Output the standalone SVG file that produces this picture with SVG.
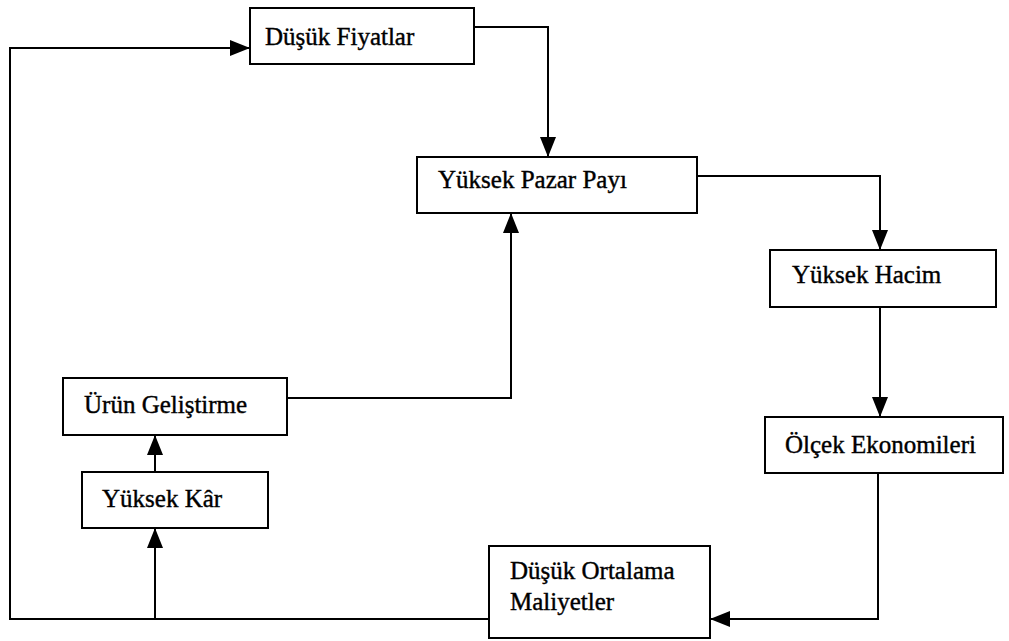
<svg xmlns="http://www.w3.org/2000/svg" width="1009" height="641" viewBox="0 0 1009 641">
<style>
.box{fill:#fff;stroke:#000;stroke-width:2}
.lbl{font-family:"Liberation Serif","Times New Roman",serif;font-size:25px;fill:#000;stroke:#000;stroke-width:0.4}
.con{fill:none;stroke:#000;stroke-width:2}
</style>
<defs>
<marker id="arr" markerUnits="userSpaceOnUse" markerWidth="21" markerHeight="17" refX="20" refY="8" orient="auto">
<path d="M0,0 L20,8 L0,16 Z" fill="#000"/>
</marker>
</defs>
<rect width="1009" height="641" fill="#fff"/>
<g id="connectors">
<path class="con" d="M474,27 H548 V157" marker-end="url(#arr)"/>
<path class="con" d="M697,176 H880 V250" marker-end="url(#arr)"/>
<path class="con" d="M880,307 V417" marker-end="url(#arr)"/>
<path class="con" d="M878,473 V619 H710" marker-end="url(#arr)"/>
<path class="con" d="M489,619 H10 V48 H250" marker-end="url(#arr)"/>
<path class="con" d="M155,619 V528" marker-end="url(#arr)"/>
<path class="con" d="M155,472 V435" marker-end="url(#arr)"/>
<path class="con" d="M287,398 H511 V213" marker-end="url(#arr)"/>
</g>
<g id="dusuk-fiyatlar">
<rect class="box" x="250" y="8" width="224" height="56"/>
<text class="lbl" x="265" y="45">Düşük Fiyatlar</text>
</g>
<g id="yuksek-pazar-payi">
<rect class="box" x="417" y="157" width="280" height="56"/>
<text class="lbl" x="438" y="188">Yüksek Pazar Payı</text>
</g>
<g id="yuksek-hacim">
<rect class="box" x="770" y="250" width="226" height="57"/>
<text class="lbl" x="792" y="283">Yüksek Hacim</text>
</g>
<g id="olcek-ekonomileri">
<rect class="box" x="765" y="417" width="238" height="56"/>
<text class="lbl" x="785" y="453">Ölçek Ekonomileri</text>
</g>
<g id="dusuk-ortalama-maliyetler">
<rect class="box" x="489" y="546" width="221" height="92"/>
<text class="lbl" x="510" y="579">Düşük Ortalama</text>
<text class="lbl" x="510" y="610">Maliyetler</text>
</g>
<g id="yuksek-kar">
<rect class="box" x="82" y="472" width="186" height="56"/>
<text class="lbl" x="102" y="507">Yüksek Kâr</text>
</g>
<g id="urun-gelistirme">
<rect class="box" x="63" y="378" width="224" height="57"/>
<text class="lbl" x="84" y="413">Ürün Geliştirme</text>
</g>
</svg>
